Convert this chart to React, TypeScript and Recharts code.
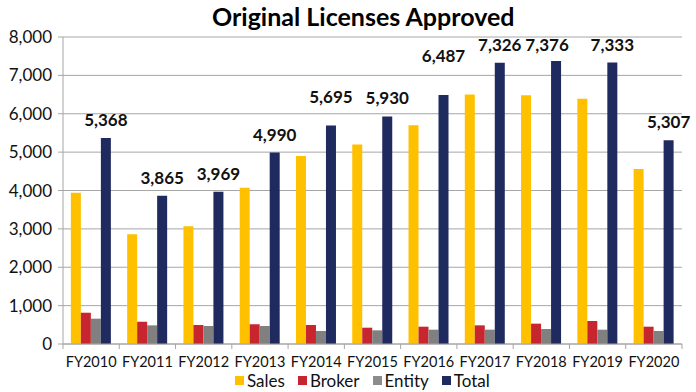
import React from "react";
import { BarChart, Bar, XAxis, YAxis, CartesianGrid, LabelList } from "recharts";

const categories = ["FY2010", "FY2011", "FY2012", "FY2013", "FY2014", "FY2015", "FY2016", "FY2017", "FY2018", "FY2019", "FY2020"];
const sales = [3940, 2860, 3070, 4070, 4900, 5200, 5700, 6500, 6480, 6390, 4560];
const broker = [815, 580, 495, 513, 495, 425, 451, 486, 530, 599, 451];
const entity = [660, 486, 469, 469, 339, 356, 373, 373, 391, 373, 339];
const total = [5368, 3865, 3969, 4990, 5695, 5930, 6487, 7326, 7376, 7333, 5307];
const yTicks = [0, 1000, 2000, 3000, 4000, 5000, 6000, 7000, 8000];

const data = categories.map((name, i) => ({
  name,
  Sales: sales[i],
  Broker: broker[i],
  Entity: entity[i],
  Total: total[i],
}));

const FONT = "Lato, 'Open Sans', sans-serif";
const GRID = "#a6a6a6";
const PLOT_LEFT = 63;
const PLOT_RIGHT = 682;
const BAND = (PLOT_RIGHT - PLOT_LEFT) / categories.length;

// Excel-style manual nudges of a few total labels
const labelNudge: Record<number, { dx: number; dy: number }> = {
  4: { dx: 0, dy: -10 },
  6: { dx: 0, dy: -21 },
  8: { dx: -9, dy: 2 },
};

const TotalLabel = (props: any) => {
  const { x, y, width, value, index } = props;
  const n = labelNudge[index] || { dx: 0, dy: 0 };
  return (
    <text
      x={x + width / 2 + n.dx}
      y={y - 12 + n.dy}
      textAnchor="middle"
      fontFamily={FONT}
      fontWeight={700}
      fontSize={17}
      fill="#111"
    >
      {Number(value).toLocaleString("en-US")}
    </text>
  );
};

const CategoryTick = (props: any) => {
  const { x, y, payload, index } = props;
  const last = index === categories.length - 1;
  return (
    <g>
      <line x1={x - BAND / 2} x2={x - BAND / 2} y1={y} y2={y + 5} stroke={GRID} />
      {last && <line x1={x + BAND / 2} x2={x + BAND / 2} y1={y} y2={y + 5} stroke={GRID} />}
      <text x={x} y={y + 23} textAnchor="middle" fontFamily={FONT} fontSize={14.5} fill="#111">
        {payload.value}
      </text>
    </g>
  );
};

const legendItems = [
  { name: "Sales", color: "#FFC000" },
  { name: "Broker", color: "#C8262F" },
  { name: "Entity", color: "#8c8c8c" },
  { name: "Total", color: "#1F2A5E" },
];

export default function App() {
  return (
    <div style={{ position: "absolute", left: 0, top: 0, width: 696, height: 392, background: "#fff" }}>
      <div
        style={{
          position: "absolute",
          top: 1,
          left: 212,
          whiteSpace: "nowrap",
          fontFamily: FONT,
          fontWeight: 700,
          fontSize: 25,
          lineHeight: "30px",
          color: "#000",
        }}
      >
        Original Licenses Approved
      </div>
      <BarChart
        width={696}
        height={392}
        data={data}
        margin={{ top: 37, right: 696 - PLOT_RIGHT, left: 0, bottom: 18 }}
        barCategoryGap="14%"
        barGap={0}
      >
        <CartesianGrid vertical={false} stroke={GRID} />
        <XAxis
          dataKey="name"
          height={30}
          tickSize={0}
          tickMargin={0}
          tickLine={false}
          tick={<CategoryTick />}
          axisLine={{ stroke: GRID }}
          interval={0}
        />
        <YAxis
          width={PLOT_LEFT}
          domain={[0, 8000]}
          ticks={yTicks}
          interval={0}
          tickSize={5}
          tickMargin={6}
          tickLine={{ stroke: GRID }}
          axisLine={{ stroke: GRID }}
          tick={{ fontFamily: FONT, fontSize: 17, fill: "#111" }}
          tickFormatter={(v: number) => v.toLocaleString("en-US")}
        />
        <Bar dataKey="Sales" fill="#FFC000" isAnimationActive={false} />
        <Bar dataKey="Broker" fill="#C8262F" isAnimationActive={false} />
        <Bar dataKey="Entity" fill="#808080" isAnimationActive={false} />
        <Bar dataKey="Total" fill="#1F2A5E" isAnimationActive={false}>
          <LabelList dataKey="Total" content={<TotalLabel />} />
        </Bar>
      </BarChart>
      <div
        style={{
          position: "absolute",
          top: 372,
          left: 235,
          display: "flex",
          fontFamily: FONT,
          fontSize: 17,
          lineHeight: "17px",
          color: "#111",
        }}
      >
        {legendItems.map((it) => (
          <div key={it.name} style={{ display: "flex", alignItems: "center", marginRight: 13 }}>
            <span style={{ width: 9, height: 9, background: it.color, marginRight: 3, display: "inline-block" }} />
            <span>{it.name}</span>
          </div>
        ))}
      </div>
    </div>
  );
}
